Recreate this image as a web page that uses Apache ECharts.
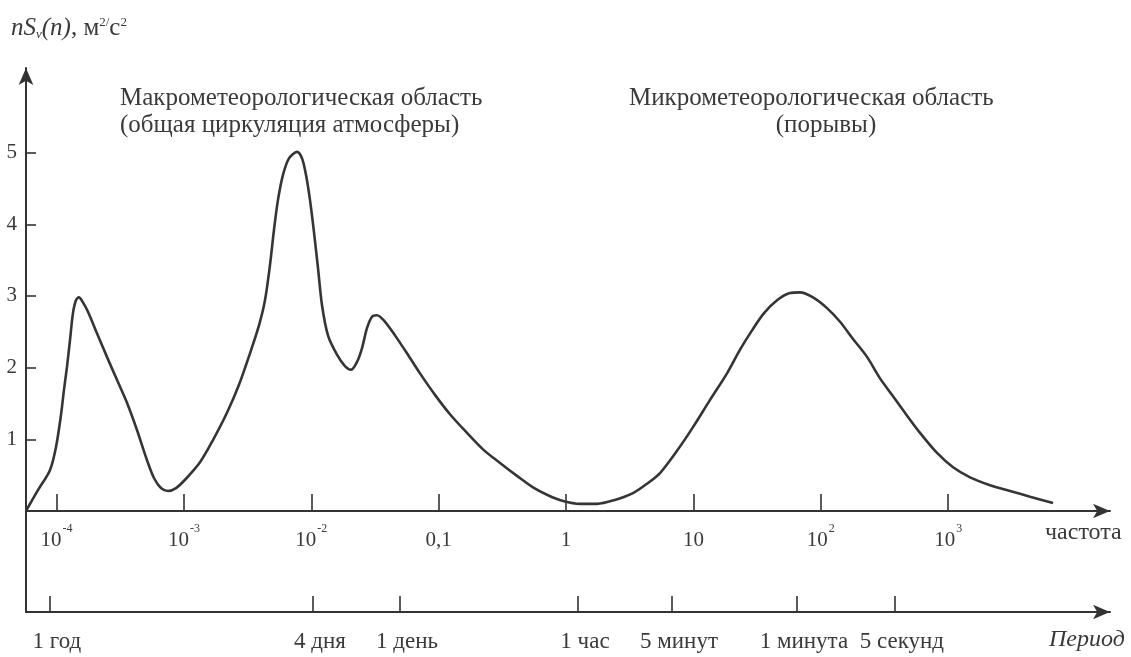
<!DOCTYPE html>
<html><head><meta charset="utf-8">
<script src="https://cdn.jsdelivr.net/npm/echarts@6/dist/echarts.min.js"></script>
<style>html,body{margin:0;padding:0;background:#fff}#c{width:1131px;height:657px}</style>
</head><body><div id="c"></div>
<script>
// frequency, cycles per hour
const frequency = [
  5.75e-5, 7.14e-5, 8.87e-5, 9.89e-5, 1.083e-4, 1.143e-4, 1.207e-4, 1.274e-4, 1.345e-4, 1.420e-4,
  1.499e-4, 1.611e-4, 1.764e-4, 2.075e-4, 2.486e-4, 2.979e-4, 3.570e-4, 4.278e-4, 5.125e-4, 5.816e-4,
  6.601e-4, 7.492e-4, 8.66e-4, 1.037e-3, 1.336e-3, 1.690e-3, 2.177e-3, 2.704e-3, 3.299e-3, 3.882e-3,
  4.326e-3, 4.735e-3, 5.089e-3, 5.472e-3, 5.991e-3, 6.677e-3, 7.717e-3, 8.446e-3, 9.078e-3, 9.759e-3,
  1.049e-2, 1.128e-2, 1.213e-2, 1.351e-2, 1.590e-2, 1.837e-2, 2.048e-2, 2.283e-2, 2.498e-2, 2.735e-2,
  2.994e-2, 3.277e-2, 3.787e-2, 4.537e-2, 5.636e-2, 7.131e-2, 9.350e-2, 0.1226, 0.1668, 0.2227,
  0.3029, 0.4118, 0.5498, 0.7211, 0.9458, 1.286, 1.748, 2.378, 3.353, 4.318,
  5.462, 7.427, 9.918, 13.49, 18.34, 23.20, 28.82, 35.80, 45.29, 57.28,
  68.62, 86.82, 111.8, 141.4, 178.9, 230.4, 291.5, 368.7, 466.4, 600.6,
  817.0, 1091, 1484, 2130, 3057, 4388, 6650];
// nS(n), m2/s2
const spectrum = [
  0, 0.29, 0.57, 0.89, 1.34, 1.69, 2.01, 2.38, 2.76, 2.94,
  2.98, 2.91, 2.78, 2.48, 2.15, 1.83, 1.51, 1.13, 0.71, 0.46,
  0.32, 0.28, 0.32, 0.45, 0.68, 0.99, 1.37, 1.76, 2.20, 2.59,
  2.94, 3.43, 3.92, 4.34, 4.69, 4.92, 5.01, 4.92, 4.69, 4.34,
  3.89, 3.39, 2.87, 2.45, 2.18, 2.02, 1.97, 2.08, 2.27, 2.55,
  2.71, 2.73, 2.64, 2.45, 2.20, 1.92, 1.62, 1.35, 1.09, 0.86,
  0.67, 0.49, 0.33, 0.22, 0.14, 0.10, 0.10, 0.15, 0.25, 0.38,
  0.53, 0.84, 1.17, 1.55, 1.92, 2.25, 2.52, 2.76, 2.94, 3.04,
  3.05, 2.98, 2.83, 2.64, 2.40, 2.15, 1.85, 1.60, 1.35, 1.09,
  0.81, 0.61, 0.47, 0.36, 0.28, 0.20, 0.11];
const freqTickValues = [1e-4, 1e-3, 1e-2, 0.1, 1, 10, 100, 1000];
const freqTickBase = ['10', '10', '10', '0,1', '1', '10', '10', '10'];
const freqTickExp = ['-4', '-3', '-2', '', '', '', '2', '3'];
const periodTickValues = [8.87e-5, 1.030e-2, 4.97e-2, 1.24, 6.78, 64.9, 381];
const periodTickLabels = ['1 год', '4 дня', '1 день', '1 час', '5 минут', '1 минута', '5 секунд'];
const yTickValues = [1, 2, 3, 4, 5];

const FONT = '"Liberation Serif", "Times New Roman", serif';
const INK = '#333';
const TXT = '#3a3a3a';

function nearestIndex(arr, v) {
  let best = 0, bd = Infinity;
  for (let i = 0; i < arr.length; i++) {
    const d = Math.abs(Math.log10(arr[i]) - Math.log10(v));
    if (d < bd) { bd = d; best = i; }
  }
  return best;
}

const xMin = Math.pow(10, -4.240);
const xMax = Math.pow(10, 4.270);

const chart = echarts.init(document.getElementById('c'), null, {renderer: 'canvas'});
chart.setOption({
  backgroundColor: '#fff',
  animation: false,
  grid: [
    {left: 26, right: 21, top: 68, bottom: 146, containLabel: false},
    {left: 26, right: 21, top: 511, bottom: 45, containLabel: false}
  ],
  xAxis: [{
    gridIndex: 0, type: 'log', logBase: 10, min: xMin, max: xMax, position: 'bottom',
    axisLine: {show: true, onZero: false, symbol: ['none', 'arrow'], symbolSize: [11, 17],
      lineStyle: {color: INK, width: 2}},
    axisTick: {show: true, inside: true, length: 17, customValues: freqTickValues,
      lineStyle: {color: INK, width: 1.6}},
    axisLabel: {show: true, margin: 12, customValues: freqTickValues,
      formatter: function (v) {
        const i = nearestIndex(freqTickValues, v);
        return freqTickExp[i] ? '{b|' + freqTickBase[i] + '}{s|' + freqTickExp[i] + '}' : '{b|' + freqTickBase[i] + '}';
      },
      rich: {
        b: {fontFamily: FONT, fontSize: 21, color: TXT, padding: [7, 0, 0, 0]},
        s: {fontFamily: FONT, fontSize: 12, color: TXT, verticalAlign: 'top', padding: [0, 0, 8, 1]}
      }},
    splitLine: {show: false}, minorTick: {show: false}, minorSplitLine: {show: false}
  }, {
    gridIndex: 1, type: 'log', logBase: 10, min: xMin, max: xMax, position: 'bottom',
    axisLine: {show: true, onZero: false, symbol: ['none', 'arrow'], symbolSize: [11, 17],
      lineStyle: {color: INK, width: 2}},
    axisTick: {show: true, inside: true, length: 16, customValues: periodTickValues,
      lineStyle: {color: INK, width: 1.6}},
    axisLabel: {show: true, margin: 18, customValues: periodTickValues,
      fontFamily: FONT, fontSize: 23, color: TXT, padding: [0, 0, 0, 14],
      formatter: function (v) { return periodTickLabels[nearestIndex(periodTickValues, v)]; }},
    splitLine: {show: false}
  }],
  yAxis: [{
    gridIndex: 0, type: 'value', min: 0, max: 6.18,
    axisLine: {show: true, onZero: false, symbol: ['none', 'arrow'], symbolSize: [11, 17],
      lineStyle: {color: INK, width: 2}},
    axisTick: {show: true, inside: true, length: 10, customValues: yTickValues,
      lineStyle: {color: INK, width: 1.6}},
    axisLabel: {show: true, margin: 9, customValues: yTickValues,
      fontFamily: FONT, fontSize: 21, color: TXT},
    splitLine: {show: false}
  }, {
    gridIndex: 1, type: 'value', min: 0, max: 1,
    axisLine: {show: true, onZero: false, lineStyle: {color: INK, width: 2}},
    axisTick: {show: false}, axisLabel: {show: false}, splitLine: {show: false}
  }],
  series: [{
    type: 'line', xAxisIndex: 0, yAxisIndex: 0,
    data: frequency.map((f, i) => [f, spectrum[i]]),
    smooth: 0.3, showSymbol: false, symbol: 'none',
    lineStyle: {color: '#353535', width: 2.6}
  }],
  graphic: [
    {type: 'text', left: 11, top: 16, style: {
      text: '{i|nS}{sub|v}{i|(n)}{r|, м}{sup|2/}{r|с}{sup|2}',
      rich: {
        i: {fontFamily: FONT, fontStyle: 'italic', fontSize: 25, fill: TXT},
        r: {fontFamily: FONT, fontSize: 25, fill: TXT},
        sub: {fontFamily: FONT, fontStyle: 'italic', fontSize: 13, fill: TXT, verticalAlign: 'bottom', padding: [10, 0, 0, 0]},
        sup: {fontFamily: FONT, fontSize: 13, fill: TXT, verticalAlign: 'top', padding: [0, 0, 10, 0]}
      }}},
    {type: 'text', left: 120, top: 86, style: {text: 'Макрометеорологическая область', font: '25px ' + FONT, fill: TXT}},
    {type: 'text', left: 120, top: 113, style: {text: '(общая циркуляция атмосферы)', font: '25px ' + FONT, fill: TXT}},
    {type: 'text', left: 629, top: 86, style: {text: 'Микрометеорологическая область', font: '25px ' + FONT, fill: TXT}},
    {type: 'text', x: 826, y: 113, style: {text: '(порывы)', font: '25px ' + FONT, fill: TXT, textAlign: 'center'}},
    {type: 'text', left: 1045, top: 521, style: {text: 'частота', font: '24px ' + FONT, fill: TXT}},
    {type: 'text', left: 1049, top: 628, style: {text: 'Период', font: 'italic 24px ' + FONT, fill: TXT}}
  ]
});
</script>
</body></html>
